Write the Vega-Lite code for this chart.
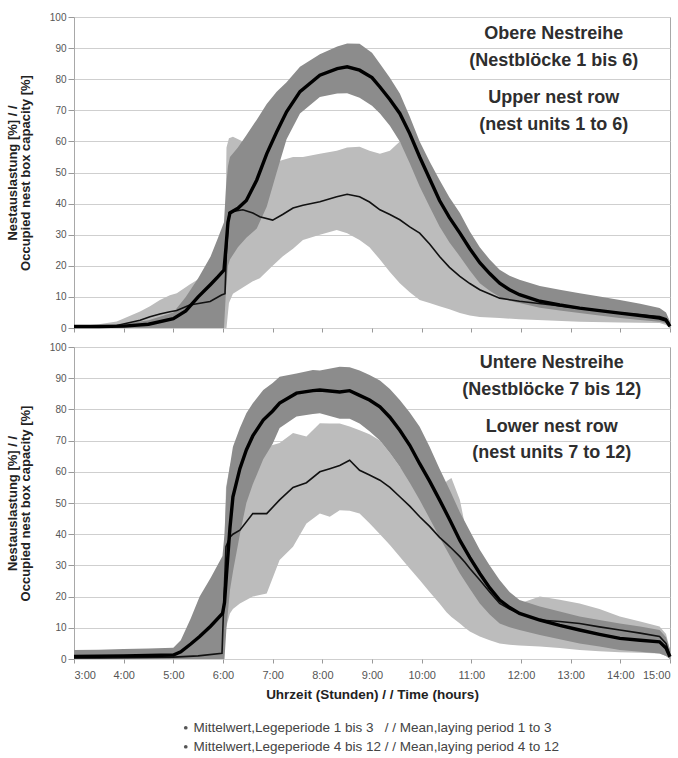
{
  "$schema": "https://vega.github.io/schema/vega-lite/v6.json",
  "padding": {"left": 5, "top": 11, "right": 5, "bottom": 5},
  "background": "white",
  "config": {
    "font": "Liberation Sans",
    "view": {"stroke": "#a8a8a8", "strokeWidth": 1},
    "axis": {
      "labelFont": "Liberation Sans",
      "labelColor": "#555",
      "labelFontSize": 10,
      "tickColor": "#999",
      "domainColor": "#a8a8a8",
      "gridColor": "#cfcfcf",
      "titleFont": "Liberation Sans",
      "titleFontWeight": "bold",
      "titleColor": "#222"
    },
    "axisY": {
      "values": [0,10,20,30,40,50,60,70,80,90,100],
      "title": ["Nestauslastung [%] / /", "Occupied nest box capacity [%]"],
      "titleFontSize": 13,
      "titleLineHeight": 13,
      "titlePadding": 17,
      "tickSize": 6,
      "labelPadding": 2,
      "domain": false,
      "grid": true
    }
  },
  "datasets": {
    "top": [
      {"p":"1-3","h":3.0,"m":0.3,"lo":0,"hi":0.5},
      {"p":"1-3","h":3.5,"m":0.5,"lo":0,"hi":1.2},
      {"p":"1-3","h":3.86,"m":0.8,"lo":0,"hi":2.1},
      {"p":"1-3","h":4.33,"m":2.5,"lo":0,"hi":5.3},
      {"p":"1-3","h":4.53,"m":3.6,"lo":0,"hi":7},
      {"p":"1-3","h":4.73,"m":4.5,"lo":0,"hi":9},
      {"p":"1-3","h":4.93,"m":5.2,"lo":0,"hi":10.5},
      {"p":"1-3","h":5.07,"m":5.6,"lo":0,"hi":11.2},
      {"p":"1-3","h":5.33,"m":7.4,"lo":0,"hi":14},
      {"p":"1-3","h":5.74,"m":8.5,"lo":0,"hi":18},
      {"p":"1-3","h":5.97,"m":10.6,"lo":0,"hi":20},
      {"p":"1-3","h":6.04,"m":11,"lo":0,"hi":22},
      {"p":"1-3","h":6.07,"m":25,"lo":0,"hi":58},
      {"p":"1-3","h":6.12,"m":37,"lo":8,"hi":61},
      {"p":"1-3","h":6.2,"m":37.5,"lo":11,"hi":61.5},
      {"p":"1-3","h":6.4,"m":38,"lo":13,"hi":60},
      {"p":"1-3","h":6.6,"m":37,"lo":15,"hi":54},
      {"p":"1-3","h":6.74,"m":35.8,"lo":16,"hi":52},
      {"p":"1-3","h":7.0,"m":34.7,"lo":20,"hi":53},
      {"p":"1-3","h":7.2,"m":36.5,"lo":23,"hi":54},
      {"p":"1-3","h":7.41,"m":38.6,"lo":25.5,"hi":55},
      {"p":"1-3","h":7.61,"m":39.5,"lo":28.3,"hi":55},
      {"p":"1-3","h":7.95,"m":40.6,"lo":30,"hi":56},
      {"p":"1-3","h":8.29,"m":42.2,"lo":31.5,"hi":57},
      {"p":"1-3","h":8.5,"m":43,"lo":30.5,"hi":58},
      {"p":"1-3","h":8.75,"m":42.2,"lo":28.3,"hi":58.3},
      {"p":"1-3","h":8.95,"m":40.5,"lo":26,"hi":57},
      {"p":"1-3","h":9.16,"m":38,"lo":22,"hi":56},
      {"p":"1-3","h":9.36,"m":36.5,"lo":18,"hi":57},
      {"p":"1-3","h":9.56,"m":34.8,"lo":14.4,"hi":60},
      {"p":"1-3","h":9.76,"m":32.5,"lo":11.5,"hi":55},
      {"p":"1-3","h":9.96,"m":30.5,"lo":9,"hi":47},
      {"p":"1-3","h":10.16,"m":27,"lo":8,"hi":40},
      {"p":"1-3","h":10.36,"m":23,"lo":7,"hi":34},
      {"p":"1-3","h":10.56,"m":19.5,"lo":6,"hi":28},
      {"p":"1-3","h":10.77,"m":16.6,"lo":4.8,"hi":24},
      {"p":"1-3","h":10.97,"m":14.3,"lo":4,"hi":20},
      {"p":"1-3","h":11.17,"m":12.3,"lo":3.5,"hi":16},
      {"p":"1-3","h":11.57,"m":9.6,"lo":3.2,"hi":12},
      {"p":"1-3","h":11.97,"m":8.6,"lo":2.8,"hi":10},
      {"p":"1-3","h":12.58,"m":7.5,"lo":2.4,"hi":8.8},
      {"p":"1-3","h":13.18,"m":6.4,"lo":2,"hi":7.5},
      {"p":"1-3","h":13.99,"m":4.8,"lo":1.8,"hi":6.4},
      {"p":"1-3","h":14.79,"m":3.7,"lo":1.6,"hi":5.3},
      {"p":"1-3","h":14.92,"m":3,"lo":1,"hi":4.5},
      {"p":"1-3","h":15.0,"m":1,"lo":0,"hi":2},
      {"p":"4-12","h":3.0,"m":0.5,"lo":0,"hi":1},
      {"p":"4-12","h":3.5,"m":0.5,"lo":0,"hi":1},
      {"p":"4-12","h":4.0,"m":0.6,"lo":0,"hi":1.3},
      {"p":"4-12","h":4.5,"m":1.2,"lo":0,"hi":2.5},
      {"p":"4-12","h":5.0,"m":3,"lo":0,"hi":5},
      {"p":"4-12","h":5.25,"m":5.5,"lo":0,"hi":10},
      {"p":"4-12","h":5.5,"m":10,"lo":0,"hi":16},
      {"p":"4-12","h":5.75,"m":14,"lo":0,"hi":23},
      {"p":"4-12","h":5.9,"m":16.5,"lo":0,"hi":29},
      {"p":"4-12","h":6.02,"m":18.6,"lo":0,"hi":34},
      {"p":"4-12","h":6.06,"m":26,"lo":12,"hi":45},
      {"p":"4-12","h":6.1,"m":34,"lo":20,"hi":52},
      {"p":"4-12","h":6.14,"m":37,"lo":22,"hi":55},
      {"p":"4-12","h":6.3,"m":38.5,"lo":26,"hi":58},
      {"p":"4-12","h":6.47,"m":41,"lo":29,"hi":62},
      {"p":"4-12","h":6.68,"m":47.6,"lo":32,"hi":67},
      {"p":"4-12","h":6.88,"m":56,"lo":39,"hi":72},
      {"p":"4-12","h":7.08,"m":63,"lo":50,"hi":76},
      {"p":"4-12","h":7.28,"m":69.5,"lo":60.7,"hi":79},
      {"p":"4-12","h":7.55,"m":76,"lo":69,"hi":84},
      {"p":"4-12","h":7.95,"m":81.3,"lo":74.3,"hi":88},
      {"p":"4-12","h":8.3,"m":83.4,"lo":75.4,"hi":90.5},
      {"p":"4-12","h":8.5,"m":84,"lo":75.5,"hi":91.5},
      {"p":"4-12","h":8.75,"m":82.9,"lo":74,"hi":91.4},
      {"p":"4-12","h":9.0,"m":80.5,"lo":71.5,"hi":88.5},
      {"p":"4-12","h":9.16,"m":77.5,"lo":69,"hi":85},
      {"p":"4-12","h":9.36,"m":73.5,"lo":65,"hi":80.5},
      {"p":"4-12","h":9.56,"m":69,"lo":60,"hi":75.4},
      {"p":"4-12","h":9.76,"m":62.5,"lo":53,"hi":68},
      {"p":"4-12","h":9.96,"m":55,"lo":45.5,"hi":60},
      {"p":"4-12","h":10.16,"m":48,"lo":39,"hi":53.5},
      {"p":"4-12","h":10.36,"m":41,"lo":32.6,"hi":47.6},
      {"p":"4-12","h":10.56,"m":35.5,"lo":27.5,"hi":42},
      {"p":"4-12","h":10.77,"m":30.5,"lo":23,"hi":37},
      {"p":"4-12","h":10.97,"m":25.5,"lo":18.5,"hi":31},
      {"p":"4-12","h":11.17,"m":21,"lo":14.4,"hi":26},
      {"p":"4-12","h":11.37,"m":17.5,"lo":12,"hi":22},
      {"p":"4-12","h":11.57,"m":14.4,"lo":10,"hi":18.7},
      {"p":"4-12","h":11.77,"m":12.3,"lo":8.8,"hi":16.8},
      {"p":"4-12","h":11.97,"m":10.7,"lo":8,"hi":15.5},
      {"p":"4-12","h":12.38,"m":8.6,"lo":6.5,"hi":13.5},
      {"p":"4-12","h":12.78,"m":7.4,"lo":5.6,"hi":12.3},
      {"p":"4-12","h":13.18,"m":6.4,"lo":4.8,"hi":11.2},
      {"p":"4-12","h":13.58,"m":5.6,"lo":4,"hi":10.1},
      {"p":"4-12","h":13.99,"m":4.8,"lo":3.2,"hi":9},
      {"p":"4-12","h":14.4,"m":4,"lo":2.6,"hi":7.8},
      {"p":"4-12","h":14.79,"m":3.2,"lo":2,"hi":6.4},
      {"p":"4-12","h":14.92,"m":2.5,"lo":1.5,"hi":5},
      {"p":"4-12","h":15.0,"m":0.5,"lo":0,"hi":2}
    ],
    "bottom": [
      {"p":"1-3","h":3.0,"m":0.3,"lo":0,"hi":1.5},
      {"p":"1-3","h":3.5,"m":0.3,"lo":0,"hi":1.5},
      {"p":"1-3","h":4.0,"m":0.4,"lo":0,"hi":1.5},
      {"p":"1-3","h":4.5,"m":0.5,"lo":0,"hi":1.8},
      {"p":"1-3","h":5.0,"m":0.6,"lo":0,"hi":2},
      {"p":"1-3","h":5.5,"m":1,"lo":0,"hi":2},
      {"p":"1-3","h":5.98,"m":1.8,"lo":0,"hi":2.5},
      {"p":"1-3","h":6.02,"m":20,"lo":2,"hi":30},
      {"p":"1-3","h":6.06,"m":36,"lo":10,"hi":55},
      {"p":"1-3","h":6.14,"m":39,"lo":14.6,"hi":62},
      {"p":"1-3","h":6.2,"m":40,"lo":16,"hi":64.8},
      {"p":"1-3","h":6.34,"m":41.3,"lo":17.8,"hi":66},
      {"p":"1-3","h":6.6,"m":46.6,"lo":20,"hi":67},
      {"p":"1-3","h":6.88,"m":46.6,"lo":21,"hi":68},
      {"p":"1-3","h":7.14,"m":51,"lo":31.7,"hi":69.2},
      {"p":"1-3","h":7.41,"m":55,"lo":36,"hi":72.4},
      {"p":"1-3","h":7.68,"m":56.5,"lo":43.4,"hi":71.3},
      {"p":"1-3","h":7.95,"m":60,"lo":46.6,"hi":75.6},
      {"p":"1-3","h":8.15,"m":61,"lo":45.6,"hi":75.5},
      {"p":"1-3","h":8.35,"m":62,"lo":47.7,"hi":75.5},
      {"p":"1-3","h":8.55,"m":63.7,"lo":47.5,"hi":74.5},
      {"p":"1-3","h":8.75,"m":60.5,"lo":46.6,"hi":73.3},
      {"p":"1-3","h":8.95,"m":59,"lo":43.5,"hi":72},
      {"p":"1-3","h":9.16,"m":57.3,"lo":40,"hi":70},
      {"p":"1-3","h":9.36,"m":55,"lo":36.5,"hi":66},
      {"p":"1-3","h":9.56,"m":52,"lo":32.8,"hi":61.6},
      {"p":"1-3","h":9.76,"m":49,"lo":29,"hi":57.5},
      {"p":"1-3","h":9.96,"m":45.6,"lo":25.3,"hi":53},
      {"p":"1-3","h":10.16,"m":42.5,"lo":21.5,"hi":48.5},
      {"p":"1-3","h":10.36,"m":39,"lo":17.8,"hi":50},
      {"p":"1-3","h":10.5,"m":37,"lo":15,"hi":57},
      {"p":"1-3","h":10.6,"m":35.5,"lo":13.5,"hi":58},
      {"p":"1-3","h":10.77,"m":32.8,"lo":11.4,"hi":51},
      {"p":"1-3","h":10.87,"m":31,"lo":10,"hi":43},
      {"p":"1-3","h":10.97,"m":29,"lo":8.8,"hi":37},
      {"p":"1-3","h":11.17,"m":25.3,"lo":7.2,"hi":30},
      {"p":"1-3","h":11.37,"m":21.5,"lo":6,"hi":25},
      {"p":"1-3","h":11.57,"m":17.8,"lo":5,"hi":21},
      {"p":"1-3","h":11.77,"m":16,"lo":4.6,"hi":19},
      {"p":"1-3","h":11.97,"m":14.6,"lo":4.3,"hi":17.8},
      {"p":"1-3","h":12.38,"m":12.5,"lo":4,"hi":20},
      {"p":"1-3","h":12.78,"m":12,"lo":3.5,"hi":19},
      {"p":"1-3","h":13.18,"m":11.4,"lo":2.9,"hi":17.8},
      {"p":"1-3","h":13.58,"m":10.3,"lo":2.5,"hi":16},
      {"p":"1-3","h":13.99,"m":9.3,"lo":2.2,"hi":13.6},
      {"p":"1-3","h":14.4,"m":8.3,"lo":2,"hi":12},
      {"p":"1-3","h":14.79,"m":7.2,"lo":1.8,"hi":10.4},
      {"p":"1-3","h":14.92,"m":5,"lo":1,"hi":8},
      {"p":"1-3","h":15.0,"m":1,"lo":0,"hi":3},
      {"p":"4-12","h":3.0,"m":0.8,"lo":0,"hi":2.9},
      {"p":"4-12","h":3.5,"m":0.9,"lo":0,"hi":3},
      {"p":"4-12","h":4.0,"m":1,"lo":0,"hi":3.2},
      {"p":"4-12","h":4.5,"m":1.1,"lo":0,"hi":3.4},
      {"p":"4-12","h":5.0,"m":1.3,"lo":0,"hi":3.6},
      {"p":"4-12","h":5.15,"m":2.3,"lo":0,"hi":6},
      {"p":"4-12","h":5.35,"m":4.8,"lo":0,"hi":13},
      {"p":"4-12","h":5.53,"m":7.2,"lo":0,"hi":20},
      {"p":"4-12","h":5.75,"m":10.5,"lo":0,"hi":26},
      {"p":"4-12","h":5.99,"m":14.6,"lo":0,"hi":33},
      {"p":"4-12","h":6.03,"m":18,"lo":0,"hi":40},
      {"p":"4-12","h":6.07,"m":27,"lo":10,"hi":55},
      {"p":"4-12","h":6.14,"m":42,"lo":22,"hi":62},
      {"p":"4-12","h":6.2,"m":52,"lo":28,"hi":68},
      {"p":"4-12","h":6.34,"m":61,"lo":40,"hi":74},
      {"p":"4-12","h":6.47,"m":67,"lo":50,"hi":78.8},
      {"p":"4-12","h":6.6,"m":71.5,"lo":56,"hi":82},
      {"p":"4-12","h":6.81,"m":76.6,"lo":64,"hi":86.2},
      {"p":"4-12","h":7.0,"m":79.5,"lo":69,"hi":88.5},
      {"p":"4-12","h":7.14,"m":82,"lo":74,"hi":90.5},
      {"p":"4-12","h":7.48,"m":85.2,"lo":77.7,"hi":91.5},
      {"p":"4-12","h":7.81,"m":86,"lo":78.5,"hi":92.6},
      {"p":"4-12","h":7.95,"m":86.2,"lo":78.8,"hi":92.5},
      {"p":"4-12","h":8.35,"m":85.6,"lo":77,"hi":93.7},
      {"p":"4-12","h":8.55,"m":86,"lo":77,"hi":93.5},
      {"p":"4-12","h":8.75,"m":84.5,"lo":75.5,"hi":92.5},
      {"p":"4-12","h":8.95,"m":83,"lo":73,"hi":91},
      {"p":"4-12","h":9.16,"m":80.8,"lo":70,"hi":89.3},
      {"p":"4-12","h":9.36,"m":77.5,"lo":66,"hi":86.5},
      {"p":"4-12","h":9.56,"m":73.3,"lo":61.6,"hi":83},
      {"p":"4-12","h":9.76,"m":68.5,"lo":56.5,"hi":79},
      {"p":"4-12","h":9.96,"m":62.6,"lo":51,"hi":74.4},
      {"p":"4-12","h":10.16,"m":57,"lo":45,"hi":68},
      {"p":"4-12","h":10.36,"m":51,"lo":39,"hi":61},
      {"p":"4-12","h":10.57,"m":44.5,"lo":33,"hi":54},
      {"p":"4-12","h":10.77,"m":38,"lo":27.4,"hi":47},
      {"p":"4-12","h":10.97,"m":32.5,"lo":22.5,"hi":41},
      {"p":"4-12","h":11.17,"m":27.4,"lo":17.8,"hi":35},
      {"p":"4-12","h":11.37,"m":22.8,"lo":14.3,"hi":30},
      {"p":"4-12","h":11.57,"m":18.9,"lo":11.4,"hi":25.3},
      {"p":"4-12","h":11.77,"m":16.5,"lo":10.2,"hi":21.5},
      {"p":"4-12","h":11.97,"m":14.6,"lo":9.3,"hi":18.9},
      {"p":"4-12","h":12.38,"m":12.5,"lo":7.7,"hi":16.8},
      {"p":"4-12","h":12.78,"m":10.8,"lo":6.3,"hi":15.2},
      {"p":"4-12","h":13.18,"m":9.3,"lo":5,"hi":13.6},
      {"p":"4-12","h":13.58,"m":7.9,"lo":4,"hi":12.5},
      {"p":"4-12","h":13.99,"m":6.6,"lo":2.9,"hi":11.4},
      {"p":"4-12","h":14.4,"m":6,"lo":2.3,"hi":10.4},
      {"p":"4-12","h":14.79,"m":5.5,"lo":1.8,"hi":9.3},
      {"p":"4-12","h":14.92,"m":3.5,"lo":1,"hi":7},
      {"p":"4-12","h":15.0,"m":0.7,"lo":0,"hi":3}
    ],
    "notes": [
      {"panel":"top","x":12.66,"y":94.5,"t":"Obere Nestreihe"},
      {"panel":"top","x":12.66,"y":85.9,"t":"(Nestblöcke 1 bis 6)"},
      {"panel":"top","x":12.66,"y":74,"t":"Upper nest row"},
      {"panel":"top","x":12.66,"y":65.3,"t":"(nest units 1 to 6)"},
      {"panel":"bottom","x":12.62,"y":94.9,"t":"Untere Nestreihe"},
      {"panel":"bottom","x":12.62,"y":86.2,"t":"(Nestblöcke 7 bis 12)"},
      {"panel":"bottom","x":12.62,"y":74.4,"t":"Lower nest row"},
      {"panel":"bottom","x":12.62,"y":66,"t":"(nest units 7 to 12)"}
    ]
  },
  "spacing": 7,
  "vconcat": [
    {
      "width": 596,
      "height": 311,
      "encoding": {
        "x": {"field": "h", "type": "quantitative", "scale": {"domain": [3, 15], "nice": false, "zero": false},
              "axis": {"values": [3,4,5,6,7,8,9,10,11,12,13,14,15], "labels": false, "title": null, "grid": false, "ticks": true, "tickSize": 4, "domain": false}}
      },
      "layer": [
        {"data": {"name": "top"}, "transform": [{"filter": "datum.p == '1-3'"}],
         "mark": {"type": "area", "color": "#bcbcbc", "opacity": 1},
         "encoding": {
           "y": {"field": "lo", "type": "quantitative", "scale": {"domain": [0, 100], "nice": false}, "title": ["Nestauslastung [%] / /", "Occupied nest box capacity [%]"]},
           "y2": {"field": "hi"}}},
        {"data": {"name": "top"}, "transform": [{"filter": "datum.p == '4-12'"}],
         "mark": {"type": "area", "color": "#8c8c8c", "opacity": 1},
         "encoding": {"y": {"field": "lo", "type": "quantitative", "scale": {"domain": [0, 100], "nice": false}, "title": ["Nestauslastung [%] / /", "Occupied nest box capacity [%]"]}, "y2": {"field": "hi"}}},
        {"data": {"name": "top"}, "transform": [{"filter": "datum.p == '1-3'"}],
         "mark": {"type": "line", "color": "#111", "strokeWidth": 1.6},
         "encoding": {"y": {"field": "m", "type": "quantitative", "scale": {"domain": [0, 100], "nice": false}, "title": ["Nestauslastung [%] / /", "Occupied nest box capacity [%]"]}}},
        {"data": {"name": "top"}, "transform": [{"filter": "datum.p == '4-12'"}],
         "mark": {"type": "line", "color": "#000", "strokeWidth": 3.4},
         "encoding": {"y": {"field": "m", "type": "quantitative", "scale": {"domain": [0, 100], "nice": false}, "title": ["Nestauslastung [%] / /", "Occupied nest box capacity [%]"]}}},
        {"data": {"name": "notes"}, "transform": [{"filter": "datum.panel == 'top'"}],
         "mark": {"type": "text", "fontSize": 18, "fontWeight": "bold", "color": "#2e2e2e", "align": "center", "baseline": "middle"},
         "encoding": {"x": {"field": "x", "type": "quantitative"}, "y": {"field": "y", "type": "quantitative", "title": ["Nestauslastung [%] / /", "Occupied nest box capacity [%]"]}, "text": {"field": "t"}}}
      ]
    },
    {
      "width": 596,
      "height": 312,
      "encoding": {
        "x": {"field": "h", "type": "quantitative", "scale": {"domain": [3, 15], "nice": false, "zero": false},
              "axis": {"values": [3,4,5,6,7,8,9,10,11,12,13,14,15], "labelExpr": "datum.value + ':00'", "labelFontSize": 11, "labelPadding": 6, "title": "Uhrzeit (Stunden) / / Time (hours)", "titleFontSize": 13.5, "titlePadding": 7, "grid": false, "ticks": true, "tickSize": 4, "domain": false}}
      },
      "layer": [
        {"data": {"name": "bottom"}, "transform": [{"filter": "datum.p == '1-3'"}],
         "mark": {"type": "area", "color": "#bcbcbc", "opacity": 1},
         "encoding": {
           "y": {"field": "lo", "type": "quantitative", "scale": {"domain": [0, 100], "nice": false}, "title": ["Nestauslastung [%] / /", "Occupied nest box capacity [%]"]},
           "y2": {"field": "hi"}}},
        {"data": {"name": "bottom"}, "transform": [{"filter": "datum.p == '4-12'"}],
         "mark": {"type": "area", "color": "#8c8c8c", "opacity": 1},
         "encoding": {"y": {"field": "lo", "type": "quantitative", "scale": {"domain": [0, 100], "nice": false}, "title": ["Nestauslastung [%] / /", "Occupied nest box capacity [%]"]}, "y2": {"field": "hi"}}},
        {"data": {"name": "bottom"}, "transform": [{"filter": "datum.p == '1-3'"}],
         "mark": {"type": "line", "strokeWidth": 1.6},
         "encoding": {
           "y": {"field": "m", "type": "quantitative", "scale": {"domain": [0, 100], "nice": false}, "title": ["Nestauslastung [%] / /", "Occupied nest box capacity [%]"]},
           "color": {"field": "p", "type": "nominal", "scale": {"domain": ["1-3", "4-12"], "range": ["#111", "#000"]},
             "legend": {"orient": "none", "legendX": 105, "legendY": 704, "title": null, "symbolType": "circle", "symbolSize": 14, "labelFontSize": 13.5, "labelColor": "#444", "labelLimit": 600, "rowPadding": 4, "labelOffset": 1, "padding": 0,
               "labelExpr": "datum.value == '1-3' ? 'Mittelwert,Legeperiode 1 bis 3 \u00a0 / / Mean,laying period 1 to 3' : 'Mittelwert,Legeperiode 4 bis 12 / / Mean,laying period 4 to 12'",
               "encode": {"symbols": {"update": {"fill": {"value": "#555"}, "stroke": {"value": "#555"}, "strokeWidth": {"value": 0}}}}}}}},
        {"data": {"name": "bottom"}, "transform": [{"filter": "datum.p == '4-12'"}],
         "mark": {"type": "line", "strokeWidth": 3.4},
         "encoding": {
           "y": {"field": "m", "type": "quantitative", "scale": {"domain": [0, 100], "nice": false}, "title": ["Nestauslastung [%] / /", "Occupied nest box capacity [%]"]},
           "color": {"field": "p", "type": "nominal", "scale": {"domain": ["1-3", "4-12"], "range": ["#111", "#000"]}}}},
        {"data": {"name": "notes"}, "transform": [{"filter": "datum.panel == 'bottom'"}],
         "mark": {"type": "text", "fontSize": 18, "fontWeight": "bold", "color": "#2e2e2e", "align": "center", "baseline": "middle"},
         "encoding": {"x": {"field": "x", "type": "quantitative"}, "y": {"field": "y", "type": "quantitative", "title": ["Nestauslastung [%] / /", "Occupied nest box capacity [%]"]}, "text": {"field": "t"}}}
      ]
    }
  ]
}
